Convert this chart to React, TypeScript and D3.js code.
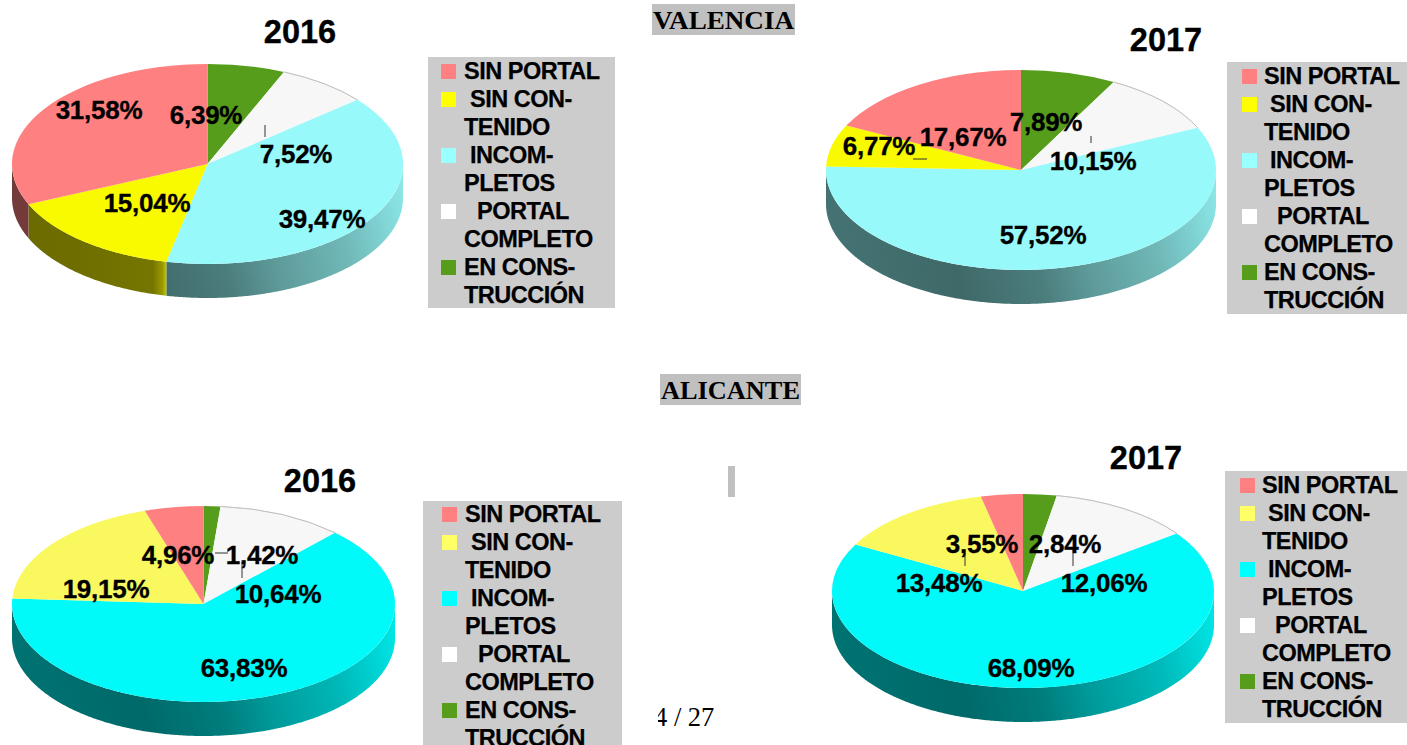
import React from "react";
import * as d3 from "d3";

const W = 1407;
const H = 745;

// ---------- data (clockwise from 12 o'clock) ----------
const sliceNames = ["EN CONSTRUCCIÓN", "PORTAL COMPLETO", "INCOMPLETOS", "SIN CONTENIDO", "SIN PORTAL"];
const valencia2016 = [6.39, 7.52, 39.47, 15.04, 31.58];
const valencia2017 = [7.89, 10.15, 57.52, 6.77, 17.67];
const alicante2016 = [1.42, 10.64, 63.83, 19.15, 4.96];
const alicante2017 = [2.84, 12.06, 68.09, 13.48, 3.55];

const legendEntries = [
  { lines: ["SIN PORTAL"], indent: 0, slice: 4 },
  { lines: ["SIN CON-", "TENIDO"], indent: 6, slice: 3 },
  { lines: ["INCOM-", "PLETOS"], indent: 6, slice: 2 },
  { lines: ["PORTAL", "COMPLETO"], indent: 13, slice: 1 },
  { lines: ["EN CONS-", "TRUCCIÓN"], indent: 0, slice: 0 },
];

const paletteTop = ["#579D1C", "#F7F7F7", "#97F9F9", "#F9F900", "#FF8080"];
const paletteBottom = ["#579D1C", "#F7F7F7", "#00F9F9", "#F9F95F", "#FF8080"];
const legendTop = ["#579D1C", "#FFFFFF", "#99FFFF", "#FFFF00", "#FF8080"];
const legendBottom = ["#579D1C", "#FFFFFF", "#00FFFF", "#FFFF66", "#FF8080"];

const wallShade: [number, number][] = [[0, 0.46], [0.3, 0.42], [0.5, 0.5], [0.62, 0.62], [0.8, 0.74], [1, 0.95]];
const highlightShade: [number, number][] = [[0, 0.42], [0.36, 0.47], [0.385, 0.62], [0.4, 0.9]];

const charts = [
  {
    id: "a", title: "2016", values: valencia2016, palette: paletteTop, swatches: legendTop,
    cx: 207.5, cy: 164, rx: 195.5, ry: 100, depth: 34, titleX: 300, titleY: 43,
    box: [428, 57, 187, 251], swatchX: 441, textX: 464, legendY: 79, highlight: 3,
    labels: [[99, 119], [206, 124], [296, 163], [322, 228], [147, 212]],
    labelOrder: [4, 0, 1, 2, 3],
    leaders: [[265, 125, 265, 137]],
  },
  {
    id: "b", title: "2017", values: valencia2017, palette: paletteTop, swatches: legendTop,
    cx: 1021, cy: 170, rx: 195, ry: 100, depth: 34, titleX: 1166, titleY: 51,
    box: [1227, 62, 180, 252], swatchX: 1242, textX: 1264, legendY: 84, highlight: -1,
    labels: [[963, 146], [1046, 131], [1093, 170], [1043, 244], [879, 155]],
    labelOrder: [4, 0, 1, 2, 3],
    leaders: [[1091, 136, 1091, 143], [913, 159, 927, 159]],
  },
  {
    id: "c", title: "2016", values: alicante2016, palette: paletteBottom, swatches: legendBottom,
    cx: 203.5, cy: 604, rx: 191.5, ry: 98, depth: 34, titleX: 320, titleY: 492,
    box: [423, 501, 199, 244], swatchX: 442, textX: 465, legendY: 522, highlight: -1,
    labels: [[178, 564], [262, 564], [278, 603], [244, 677], [106, 598]],
    labelOrder: [4, 0, 1, 2, 3],
    leaders: [[215, 553, 228, 553], [242, 562, 242, 578]],
  },
  {
    id: "d", title: "2017", values: alicante2017, palette: paletteBottom, swatches: legendBottom,
    cx: 1023, cy: 591, rx: 191, ry: 97, depth: 34, titleX: 1146, titleY: 469,
    box: [1225, 471, 182, 252], swatchX: 1240, textX: 1262, legendY: 493, highlight: -1,
    labels: [[982, 553], [1065, 553], [1104, 592], [1031, 677], [939, 592]],
    labelOrder: [4, 0, 1, 2, 3],
    leaders: [[965, 553, 965, 566], [1073, 550, 1073, 566]],
  },
];

const headers = [
  { text: "VALENCIA", x: 652, y: 4, w: 143, h: 31, base: 29 },
  { text: "ALICANTE", x: 660, y: 374, w: 141, h: 31, base: 399 },
];

const SANS = "'Liberation Sans', Arial, sans-serif";
const SERIF = "'Liberation Serif', 'Times New Roman', serif";
const pct = (v: number) => v.toFixed(2).replace(".", ",") + "%";
const shade = (color: string, f: number) => {
  const c = d3.rgb(color);
  return d3.rgb(c.r * f, c.g * f, c.b * f).formatHex();
};

function Pie3D({ c }: { c: (typeof charts)[number] }) {
  const arcs = d3.pie<number>().sort(null).value((d) => d)(c.values);
  const arc = d3.arc<d3.PieArcDatum<number>>().innerRadius(0).outerRadius(c.rx);
  const rim = d3.arc<d3.PieArcDatum<number>>().innerRadius(c.rx).outerRadius(c.rx);
  const px = (t: number) => c.cx + c.rx * Math.sin(t);
  const py = (t: number) => c.cy - c.ry * Math.cos(t);
  const line = d3.line<[number, number]>();

  const wall = (a: d3.PieArcDatum<number>) => {
    const a0 = Math.max(a.startAngle, Math.PI / 2);
    const a1 = Math.min(a.endAngle, (3 * Math.PI) / 2);
    if (a1 <= a0) return null;
    const n = Math.max(2, Math.ceil((a1 - a0) / 0.01));
    const ts = d3.range(n + 1).map((i) => a0 + ((a1 - a0) * i) / n);
    const upper = ts.map((t) => [px(t), py(t)] as [number, number]);
    const lower = ts.slice().reverse().map((t) => [px(t), py(t) + c.depth] as [number, number]);
    return line(upper.concat(lower)) + "Z";
  };

  return (
    <g>
      <defs>
        {arcs.map((a, i) => {
          const plain = i === c.highlight;
          const y1 = c.cy + c.ry * 0.8;
          return (
            <linearGradient key={i} id={`wall-${c.id}-${i}`} gradientUnits="userSpaceOnUse"
              x1={c.cx - c.rx} y1={y1} x2={c.cx + c.rx} y2={plain ? y1 : y1 - c.rx * 0.5}>
              {(plain ? highlightShade : wallShade).map(([o, f], k) => (
                <stop key={k} offset={o} stopColor={shade(c.palette[i], f)} />
              ))}
            </linearGradient>
          );
        })}
      </defs>
      {arcs.map((a, i) => {
        const d = wall(a);
        return d ? <path key={i} d={d} fill={`url(#wall-${c.id}-${i})`} /> : null;
      })}
      <g transform={`translate(${c.cx},${c.cy}) scale(1,${c.ry / c.rx})`}>
        {arcs.map((a, i) => (
          <path key={i} d={arc(a) as string} fill={c.palette[i]} />
        ))}
        {arcs.filter((_, i) => i === 1).map((a, i) => (
          <path key={i} d={rim(a) as string} fill="none" stroke="#b5b5b5" strokeWidth={0.8} />
        ))}
      </g>
      <text x={c.titleX} y={c.titleY} textAnchor="middle" fontFamily={SANS} fontWeight="bold" fontSize={32.5}
        fill="#000" stroke="#000" strokeWidth={0.35}>
        {c.title}
      </text>
      {c.leaders.map((l, i) => (
        <line key={i} x1={l[0]} y1={l[1]} x2={l[2]} y2={l[3]} stroke="#333" strokeWidth={1} />
      ))}
      {c.labelOrder.map((s, i) => (
        <text key={i} x={c.labels[i][0]} y={c.labels[i][1]} textAnchor="middle" fontFamily={SANS}
          fontWeight="bold" fontSize={26} letterSpacing={-0.25} fill="#000" stroke="#000" strokeWidth={0.3}>
          {pct(c.values[s])}
        </text>
      ))}
      <rect x={c.box[0]} y={c.box[1]} width={c.box[2]} height={c.box[3]} fill="#CCCCCC" />
      {(() => {
        let row = 0;
        return legendEntries.map((e, i) => {
          const first = row;
          row += e.lines.length;
          return (
            <g key={i}>
              <rect x={c.swatchX} y={c.legendY + first * 28 - 15} width={15} height={15} fill={c.swatches[e.slice]} />
              {e.lines.map((t, k) => (
                <text key={k} x={c.textX + (k === 0 ? e.indent : 0)} y={c.legendY + (first + k) * 28}
                  fontFamily={SANS} fontWeight="bold" fontSize={23.5} letterSpacing={-0.5}
                  fill="#000" stroke="#000" strokeWidth={0.25}>
                  {t}
                </text>
              ))}
            </g>
          );
        });
      })()}
    </g>
  );
}

export default function App() {
  return (
    <svg width={W} height={H} viewBox={`0 0 ${W} ${H}`}
      style={{ position: "absolute", left: 0, top: 0, display: "block", background: "#fff" }}>
      <defs>
        <clipPath id="page-clip"><rect x={658} y={700} width={70} height={40} /></clipPath>
      </defs>
      {charts.map((c) => <Pie3D key={c.id} c={c} />)}
      {headers.map((h) => (
        <g key={h.text}>
          <rect x={h.x} y={h.y} width={h.w} height={h.h} fill="#C0C0C0" />
          <text x={h.x + 1} y={h.base} textLength={h.w - 2} lengthAdjust="spacingAndGlyphs"
            fontFamily={SERIF} fontWeight="bold" fontSize={26} fill="#000">{h.text}</text>
        </g>
      ))}
      <rect x={728} y={466} width={7} height={31} fill="#C0C0C0" />
      <text x={654} y={726} clipPath="url(#page-clip)" fontFamily={SERIF} fontSize={26.5} fill="#000">4 / 27</text>
    </svg>
  );
}
